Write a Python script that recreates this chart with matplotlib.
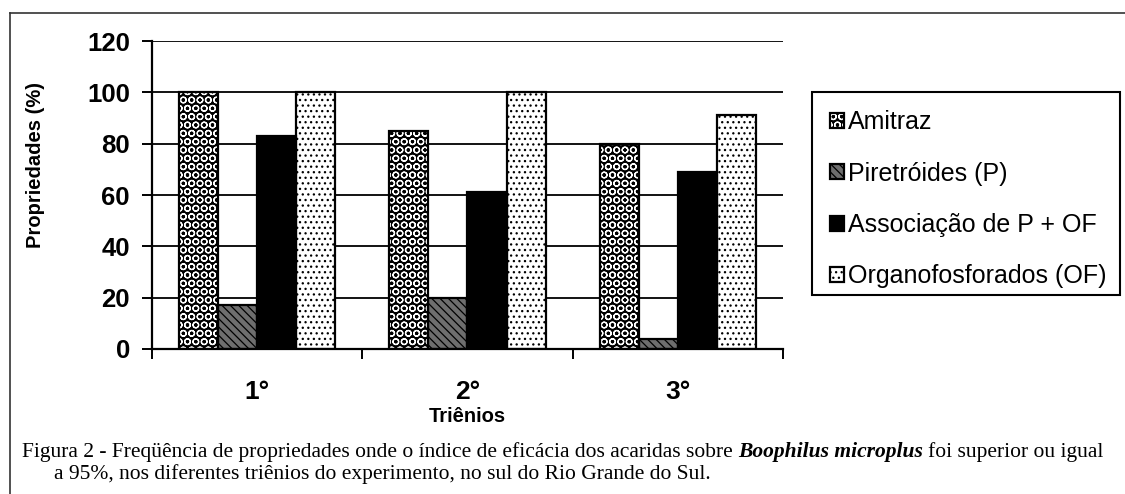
import matplotlib
matplotlib.use("Agg")
import numpy as np
import matplotlib.pyplot as plt
from matplotlib.lines import Line2D
from matplotlib.patches import Rectangle

# dados
trienios = ["1°", "2°", "3°"]
series = ["Amitraz", "Piretróides (P)", "Associação de P + OF", "Organofosforados (OF)"]
amitraz = [100, 85, 80]
piretroides = [17, 20, 4]
associacao = [83, 61, 69]
organofosforados = [100, 100, 91]
valores = [amitraz, piretroides, associacao, organofosforados]
yticks = [0, 20, 40, 60, 80, 100, 120]

# (cor de fundo, hachura, cor da hachura)
estilos = [
    ("black", "OO", "white"),
    ("#6e6e6e", "\\\\\\\\", "black"),
    ("black", "", "black"),
    ("white", "...", "black"),
]

plt.rcParams['font.family'] = ['Liberation Sans', 'DejaVu Sans']
plt.rcParams['hatch.linewidth'] = 0.9

W, H = 1125, 494
fig = plt.figure(figsize=(W / 100, H / 100), dpi=100)
ax = fig.add_axes([152 / W, 1 - 349 / H, (783 - 152) / W, 308 / H])

x = np.arange(len(trienios))
w = 0.186
handles = []
for k, (vals, (fc, ht, hc)) in enumerate(zip(valores, estilos)):
    pos = x + (k - 1.5) * w
    b1 = ax.bar(pos, vals, w, color=fc, edgecolor=hc, hatch=ht, linewidth=0, zorder=2)
    b2 = ax.bar(pos, vals, w, fill=False, edgecolor="black", linewidth=1.6, zorder=3)
    handles.append((b1[0], b2[0]))

ax.set_xlim(-0.5, 2.5)
ax.set_ylim(0, 120)
ax.set_yticks(yticks)
ax.yaxis.grid(True, color="black", linewidth=1.3)
ax.set_axisbelow(True)
for s in ["top", "right"]:
    ax.spines[s].set_visible(False)
ax.spines["left"].set_linewidth(1.6)
ax.spines["bottom"].set_linewidth(1.6)
ax.tick_params(axis="y", direction="out", length=7, width=1.4, pad=9, labelsize=18.5)
ax.set_xticks(x, trienios)
ax.set_xticks([-0.5, 0.5, 1.5, 2.5], minor=True)
ax.tick_params(axis="x", which="major", length=0, pad=22, labelsize=19)
ax.tick_params(axis="x", which="minor", direction="out", length=7, width=1.4)
for lbl in ax.get_xticklabels() + ax.get_yticklabels():
    lbl.set_fontweight("bold")

fig.text(36 / W, 1 - 165 / H, "Propriedades (%)", rotation=90, ha="center", va="center",
         fontsize=14.5, fontweight="bold")
fig.text(467.5 / W, 1 - 416 / H, "Triênios", ha="center", va="center", fontsize=14.5, fontweight="bold")

# caixa da legenda desenhada à parte
fig.add_artist(Rectangle((812 / W, 1 - 295 / H), (1120 - 812) / W, (295 - 92) / H,
                         transform=fig.transFigure, fill=False, edgecolor="black", linewidth=1.5))
leg = fig.legend(handles, series, loc="upper left", bbox_to_anchor=(812 / W, 1 - 92 / H),
                 frameon=False, fontsize=18,
                 handlelength=0.56, handleheight=0.56, handletextpad=0.15, labelspacing=1.1,
                 borderpad=0.72, borderaxespad=0)

# legenda da figura (texto com trecho em negrito itálico)
r = fig.canvas.get_renderer()
partes = [("Figura 2 - Freqüência de propriedades onde o índice de eficácia dos acaridas sobre", {}),
          ("Boophilus microplus", dict(weight="bold", style="italic")),
          ("foi superior ou igual", {})]
fs = 15.5
esp = fs * 0.25 / 72 * 100 / W
xpos = 22 / W
for txt, kw in partes:
    t = fig.text(xpos, 1 - 457 / H, txt, family="Liberation Serif", fontsize=fs, va="baseline", **kw)
    bb = t.get_window_extent(renderer=r)
    xpos = bb.x1 / W + esp
fig.text(54 / W, 1 - 479 / H, "a 95%, nos diferentes triênios do experimento, no sul do Rio Grande do Sul.",
         family="Liberation Serif", fontsize=fs, va="baseline")

# moldura
fig.add_artist(Line2D([10 / W, 10 / W], [0, 1 - 13 / H], color="#333333", lw=1.2, transform=fig.transFigure))
fig.add_artist(Line2D([10 / W, 1], [1 - 13 / H, 1 - 13 / H], color="#333333", lw=1.2, transform=fig.transFigure))

fig.savefig("out.png", dpi=100)
